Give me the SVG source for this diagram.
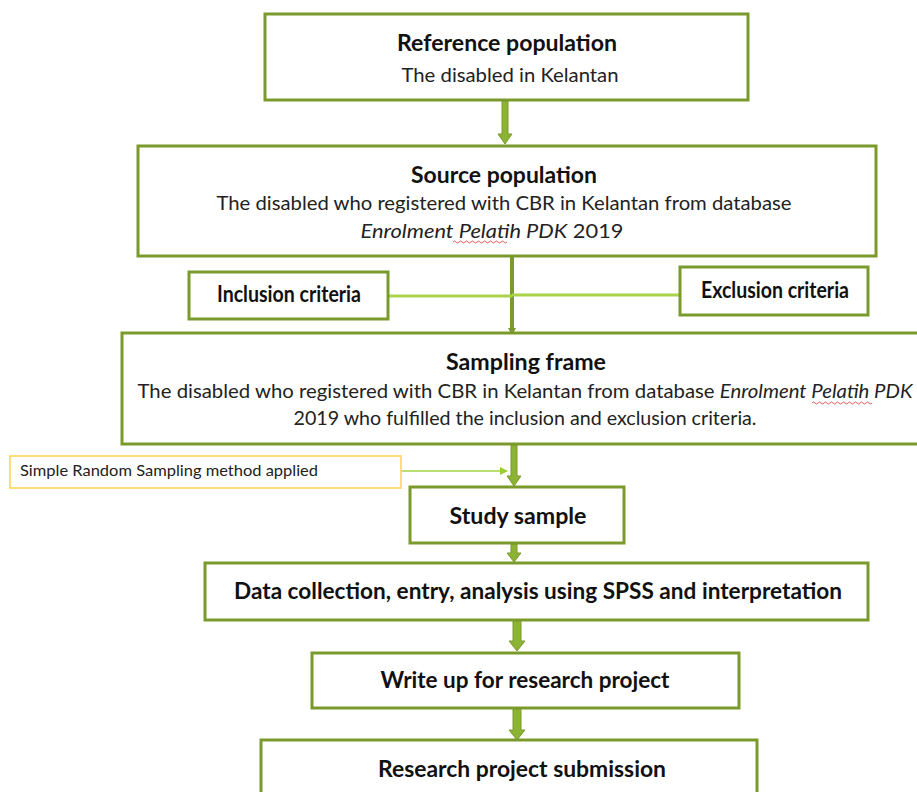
<svg xmlns="http://www.w3.org/2000/svg" width="917" height="792" viewBox="0 0 917 792">
<defs>
<style>
.box{fill:#fff;stroke:#7A9A2B;stroke-width:3}
.ybox{fill:#fff;stroke:#FFD24D;stroke-width:1.5}
.t{font-family:Lato,"Open Sans","Liberation Sans",sans-serif;font-weight:bold;font-size:22px;fill:#111;text-anchor:middle}
.s{font-family:Lato,"Open Sans","Liberation Sans",sans-serif;font-size:20px;fill:#222;text-anchor:middle}
.n{font-family:Lato,"Open Sans","Liberation Sans",sans-serif;font-size:15px;fill:#222}
.barrow{fill:#8DB334;stroke:#7A9A2B;stroke-width:1}
.lg{stroke:#A9D34A;stroke-width:3;fill:none}
.sq{stroke:#E03030;stroke-width:0.8;fill:none}
</style>
<marker id="ah" markerWidth="8" markerHeight="8" refX="7" refY="4" orient="auto" markerUnits="userSpaceOnUse">
<path d="M0,0 L8,4 L0,8 Z" fill="#9ACD32"/>
</marker>
</defs>
<rect width="917" height="792" fill="#fff"/>

<g id="connectors">
<path class="barrow" d="M502,101 H508 V134 H512 L505,144 L498,134 H502 Z"/>
<path d="M512,256 V331" stroke="#7A9A2B" stroke-width="4" fill="none"/>
<path d="M508,328 L512,335 L516,328 Z" fill="#7A9A2B"/>
<path class="lg" d="M388,296 H512"/>
<path class="lg" d="M512,295 H680"/>
<path d="M401,471 H507" stroke="#B9DE72" stroke-width="2" fill="none" marker-end="url(#ah)"/>
<path class="barrow" d="M511,445 H517 V476 H521 L514,486 L507,476 H511 Z"/>
<path class="barrow" d="M511,544 H517 V553 H521 L514,562 L507,553 H511 Z"/>
<path class="barrow" d="M513,621 H521 V641 H525 L517,651 L509,641 H513 Z"/>
<path class="barrow" d="M513,709 H521 V730 H525 L517,740 L509,730 H513 Z"/>
</g>

<g id="reference">
<rect class="box" x="265" y="14" width="483" height="86"/>
<text class="t" x="507" y="51" textLength="220" lengthAdjust="spacingAndGlyphs">Reference population</text>
<text class="s" x="510" y="82" textLength="217" lengthAdjust="spacingAndGlyphs">The disabled in Kelantan</text>
</g>

<g id="source">
<rect class="box" x="138" y="146" width="738" height="110"/>
<text class="t" x="504" y="183" textLength="186" lengthAdjust="spacingAndGlyphs">Source population</text>
<text class="s" x="504" y="210" textLength="575" lengthAdjust="spacingAndGlyphs">The disabled who registered with CBR in Kelantan from database</text>
<text class="s" x="492" y="238" textLength="263" lengthAdjust="spacingAndGlyphs"><tspan font-style="italic">Enrolment Pelatih PDK</tspan> 2019</text>
<path class="sq" d="M453,242 q1.5,-2 3,0 t3,0 t3,0 t3,0 t3,0 t3,0 t3,0 t3,0 t3,0 t3,0 t3,0 t3,0 t3,0 t3,0 t3,0 t3,0 t3,0 t3,0"/>
</g>

<g id="inclusion">
<rect class="box" x="189" y="272" width="199" height="47"/>
<text class="t" x="289" y="302" font-size="19" textLength="144" lengthAdjust="spacingAndGlyphs">Inclusion criteria</text>
</g>

<g id="exclusion">
<rect class="box" x="680" y="267" width="188" height="48"/>
<text class="t" x="775" y="298" font-size="19" textLength="148" lengthAdjust="spacingAndGlyphs">Exclusion criteria</text>
</g>

<g id="sampling">
<rect class="box" x="122" y="333" width="800" height="111"/>
<text class="t" x="526" y="370" textLength="160" lengthAdjust="spacingAndGlyphs">Sampling frame</text>
<text class="s" x="525" y="398" textLength="775" lengthAdjust="spacingAndGlyphs">The disabled who registered with CBR in Kelantan from database <tspan font-style="italic">Enrolment Pelatih PDK</tspan></text>
<text class="s" x="525" y="425" textLength="463" lengthAdjust="spacingAndGlyphs">2019 who fulfilled the inclusion and exclusion criteria.</text>
<path class="sq" d="M812,403 q1.5,-2 3,0 t3,0 t3,0 t3,0 t3,0 t3,0 t3,0 t3,0 t3,0 t3,0 t3,0 t3,0 t3,0 t3,0 t3,0 t3,0 t3,0 t3,0 t3,0 t3,0"/>
</g>

<g id="srs">
<rect class="ybox" x="10" y="456" width="391" height="32"/>
<text class="n" x="20" y="476" textLength="298" lengthAdjust="spacingAndGlyphs">Simple Random Sampling method applied</text>
</g>

<g id="study">
<rect class="box" x="410" y="487" width="214" height="56"/>
<text class="t" x="518" y="524" textLength="137" lengthAdjust="spacingAndGlyphs">Study sample</text>
</g>

<g id="data">
<rect class="box" x="205" y="563" width="663" height="57"/>
<text class="t" x="538" y="599" textLength="608" lengthAdjust="spacingAndGlyphs">Data collection, entry, analysis using SPSS and interpretation</text>
</g>

<g id="writeup">
<rect class="box" x="312" y="653" width="427" height="55"/>
<text class="t" x="525" y="688" textLength="289" lengthAdjust="spacingAndGlyphs">Write up for research project</text>
</g>

<g id="submission">
<rect class="box" x="261" y="740" width="496" height="70"/>
<text class="t" x="522" y="777" textLength="288" lengthAdjust="spacingAndGlyphs">Research project submission</text>
</g>
</svg>
